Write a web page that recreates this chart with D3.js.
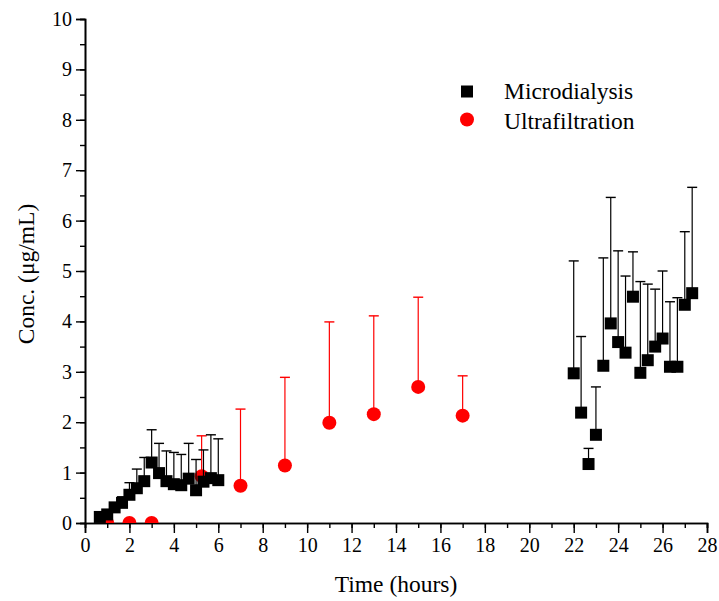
<!DOCTYPE html>
<html>
<head>
<meta charset="utf-8">
<script src="https://cdn.jsdelivr.net/npm/d3@7"></script>
<style>
  html, body { margin: 0; padding: 0; background: #fff; }
  svg { display: block; }
  text { font-family: "Liberation Serif", "Times New Roman", serif; fill: #000; }
</style>
</head>
<body>
<svg id="chart" width="719" height="601"></svg>
<script>
// ---- Data ----
const mdTimes = [0.667, 1.0, 1.333, 1.667, 2.0, 2.333, 2.667, 3.0, 3.333, 3.667, 4.0, 4.333, 4.667, 5.0, 5.333, 5.667, 6.0,
                 22.0, 22.333, 22.667, 23.0, 23.333, 23.667, 24.0, 24.333, 24.667, 25.0, 25.333, 25.667, 26.0, 26.333, 26.667, 27.0, 27.333];
const mdValues = [0.12, 0.17, 0.31, 0.40, 0.56, 0.69, 0.83, 1.20, 0.99, 0.83, 0.77, 0.75, 0.88, 0.65, 0.82, 0.89, 0.85,
                  2.97, 2.19, 1.17, 1.75, 3.12, 3.96, 3.59, 3.38, 4.49, 2.98, 3.23, 3.50, 3.66, 3.10, 3.10, 4.33, 4.56];
const mdSD = [0.04, 0.05, 0.08, 0.12, 0.24, 0.38, 0.47, 0.65, 0.59, 0.60, 0.63, 0.61, 0.70, 0.61, 0.63, 0.86, 0.82,
              2.23, 1.51, 0.31, 0.95, 2.14, 2.50, 1.81, 1.52, 0.89, 1.81, 1.51, 1.14, 1.34, 1.29, 1.37, 1.45, 2.10];

const ufTimes = [1, 2, 3, 5.25, 7, 9, 11, 13, 15, 17];
const ufValues = [0, 0, 0, 0.93, 0.74, 1.14, 1.99, 2.16, 2.70, 2.13];
const ufSD = [0, 0, 0, 0.80, 1.52, 1.75, 2.00, 1.95, 1.78, 0.79];

const xTicks = d3.range(0, 29, 2);
const xMinorTicks = d3.range(0, 29, 1);
const yTicks = d3.range(0, 11, 1);
const yMinorTicks = d3.range(0, 10.01, 0.5);

const seriesNames = ["Microdialysis", "Ultrafiltration"];
const seriesColors = ["#000000", "#ff0000"];

// ---- Layout ----
const svg = d3.select("#chart");
const mLeft = 85, mRight = 707, mTop = 19, mBottom = 523;

const x = d3.scaleLinear().domain([0, 28]).range([mLeft, mRight]);
const y = d3.scaleLinear().domain([0, 10]).range([mBottom, mTop]);

svg.append("defs").append("clipPath").attr("id", "plotclip")
  .append("rect").attr("x", mLeft).attr("y", mTop - 5).attr("width", mRight - mLeft + 5).attr("height", mBottom - mTop + 5);

// ---- Axes ----
const xAxisMinor = d3.axisBottom(x).tickValues(xMinorTicks).tickSize(5).tickFormat("");
const xAxis = d3.axisBottom(x).tickValues(xTicks).tickSize(10).tickPadding(5).tickFormat(d3.format("d"));
const yAxisMinor = d3.axisLeft(y).tickValues(yMinorTicks).tickSize(5).tickFormat("");
const yAxis = d3.axisLeft(y).tickValues(yTicks).tickSize(9).tickPadding(4).tickFormat(d3.format("d"));

function styleAxis(g) {
  g.select(".domain").attr("stroke", "#000").attr("stroke-width", 1.6);
  g.selectAll(".tick line").attr("stroke", "#000").attr("stroke-width", 1.4);
  g.selectAll(".tick text").style("font-family", '"Liberation Serif", "Times New Roman", serif')
    .style("font-size", "20px").attr("fill", "#000");
}

svg.append("g").attr("transform", `translate(0,${mBottom})`).call(xAxisMinor).call(styleAxis);
svg.append("g").attr("transform", `translate(0,${mBottom})`).call(xAxis).call(styleAxis);
svg.append("g").attr("transform", `translate(${mLeft},0)`).call(yAxisMinor).call(styleAxis);
svg.append("g").attr("transform", `translate(${mLeft},0)`).call(yAxis).call(styleAxis);

// Axis titles
svg.append("text")
  .attr("x", (mLeft + mRight) / 2).attr("y", 592)
  .attr("text-anchor", "middle")
  .style("font-size", "23.5px")
  .text("Time (hours)");

svg.append("text")
  .attr("transform", `translate(34,${(mTop + mBottom) / 2 + 3}) rotate(-90)`)
  .attr("text-anchor", "middle")
  .style("font-size", "23.5px")
  .text("Conc. (μg/mL)");

// ---- Plot ----
const plot = svg.append("g").attr("clip-path", "url(#plotclip)");
const capW = 10;

function drawErrors(times, vals, sds, color) {
  const g = plot.append("g");
  times.forEach((t, i) => {
    if (!sds[i]) return;
    const cx = x(t), y0 = y(vals[i]), y1 = y(vals[i] + sds[i]);
    g.append("line").attr("x1", cx).attr("x2", cx).attr("y1", y0).attr("y2", y1)
      .attr("stroke", color).attr("stroke-width", 1.2);
    g.append("line").attr("x1", cx - capW / 2).attr("x2", cx + capW / 2).attr("y1", y1).attr("y2", y1)
      .attr("stroke", color).attr("stroke-width", 1.4);
  });
}

// Ultrafiltration (below)
drawErrors(ufTimes, ufValues, ufSD, seriesColors[1]);
plot.append("g").selectAll("circle").data(ufTimes).join("circle")
  .attr("cx", (d) => x(d))
  .attr("cy", (d, i) => y(ufValues[i]))
  .attr("r", 7)
  .attr("fill", seriesColors[1]);

// Microdialysis (on top)
drawErrors(mdTimes, mdValues, mdSD, seriesColors[0]);
const sq = 12;
plot.append("g").selectAll("rect").data(mdTimes).join("rect")
  .attr("x", (d) => x(d) - sq / 2)
  .attr("y", (d, i) => y(mdValues[i]) - sq / 2)
  .attr("width", sq).attr("height", sq)
  .attr("fill", seriesColors[0]);

// ---- Legend ----
const legend = svg.append("g");
legend.append("rect").attr("x", 461).attr("y", 85.5).attr("width", 12).attr("height", 12).attr("fill", seriesColors[0]);
legend.append("text").attr("x", 504).attr("y", 99).style("font-size", "23.5px").text(seriesNames[0]);
legend.append("circle").attr("cx", 467).attr("cy", 119.5).attr("r", 7).attr("fill", seriesColors[1]);
legend.append("text").attr("x", 504).attr("y", 129).style("font-size", "23.5px").text(seriesNames[1]);
</script>
</body>
</html>
